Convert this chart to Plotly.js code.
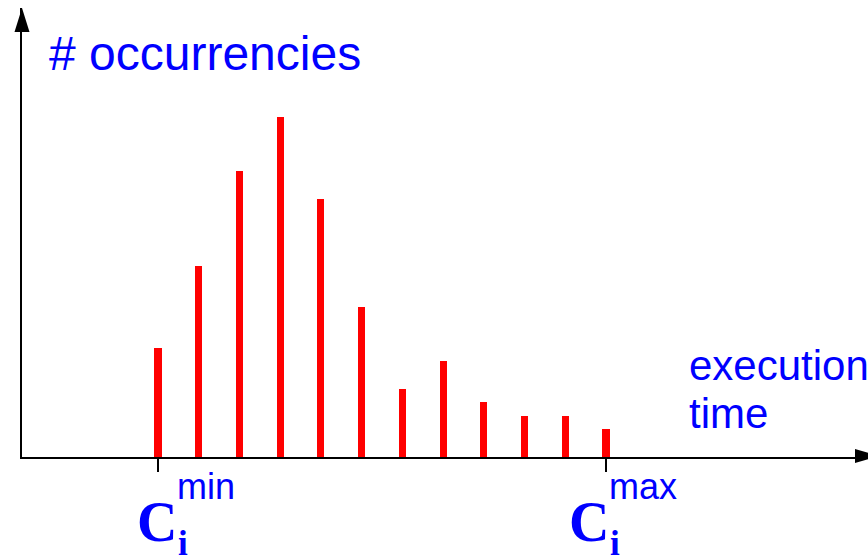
<!DOCTYPE html>
<html>
<head>
<meta charset="utf-8">
<script src="https://cdn.plot.ly/plotly-3.0.1.min.js"></script>
<style>html,body{margin:0;padding:0;background:#fff;}#chart{width:868px;height:557px;}</style>
</head>
<body>
<div id="chart"></div>
<script>
// ---- data ----
const timeBins = [0, 1, 2, 3, 4, 5, 6, 7, 8, 9, 10, 11];
const occurrences = [109, 191, 286, 340, 258, 150, 68, 96, 55, 41, 41, 28];
const tickPositions = [0, 11];
const tickSuperscripts = ['min', 'max'];
const yAxisLabel = '# occurrencies';
const xAxisLabelLines = ['execution', 'time'];

// ---- layout helpers (pixel -> paper) ----
const W = 868, H = 557;
const M = {l: 22, r: 0, t: 8, b: 100};
const PW = W - M.l - M.r, PH = H - M.t - M.b;
const px = x => (x - M.l) / PW;
const py = y => (H - M.b - y) / PH;

const blue = '#0000FF';
const sans = 'Liberation Sans, Arial, sans-serif';
const serif = 'Liberation Serif, Times New Roman, serif';

const trace = {
  type: 'bar',
  x: timeBins,
  y: occurrences,
  width: 0.175,
  marker: {color: '#FF0000', line: {width: 0}},
  hoverinfo: 'skip'
};

const annotations = [
  {xref: 'paper', yref: 'paper', x: px(47), y: py(53), xanchor: 'left', yanchor: 'middle',
   text: yAxisLabel, showarrow: false, font: {family: sans, size: 48, color: blue}},
  {xref: 'paper', yref: 'paper', x: px(687), y: py(365), xanchor: 'left', yanchor: 'middle',
   text: xAxisLabelLines[0], showarrow: false, font: {family: sans, size: 42, color: blue}},
  {xref: 'paper', yref: 'paper', x: px(687), y: py(413), xanchor: 'left', yanchor: 'middle',
   text: xAxisLabelLines[1], showarrow: false, font: {family: sans, size: 42, color: blue}}
];

// label centre (pixel) of the "C" glyph for each tick label
const labelCentres = [156.5, 588.5];
tickPositions.forEach((tp, i) => {
  const cx = labelCentres[i];
  annotations.push({xref: 'paper', yref: 'paper', x: px(cx), y: py(522), xanchor: 'center', yanchor: 'middle',
    text: '<b>C</b>', showarrow: false, font: {family: serif, size: 56, color: blue}});
  annotations.push({xref: 'paper', yref: 'paper', x: px(cx + 26), y: py(543), xanchor: 'center', yanchor: 'middle',
    text: '<b>i</b>', showarrow: false, font: {family: serif, size: 35, color: blue}});
  annotations.push({xref: 'paper', yref: 'paper', x: px(cx + 18), y: py(487), xanchor: 'left', yanchor: 'middle',
    text: tickSuperscripts[i], showarrow: false, font: {family: sans, size: 36, color: blue}});
});

const shapes = [
  {type: 'path', xref: 'paper', yref: 'paper', fillcolor: '#000', line: {width: 0},
   path: `M ${px(22)} ${py(8)} L ${px(14.5)} ${py(32)} L ${px(29.5)} ${py(32)} Z`},
  {type: 'path', xref: 'paper', yref: 'paper', fillcolor: '#000', line: {width: 0},
   path: `M ${px(880)} ${py(456)} L ${px(855)} ${py(449)} L ${px(855)} ${py(463)} Z`}
];

const layout = {
  width: W, height: H,
  margin: M,
  paper_bgcolor: '#fff', plot_bgcolor: '#fff',
  showlegend: false,
  bargap: 0,
  xaxis: {
    range: [-3.339, 17.433],
    showline: true, linecolor: '#000', linewidth: 2,
    showgrid: false, zeroline: false,
    ticks: 'outside', tickvals: tickPositions, ticklen: 13, tickwidth: 2, tickcolor: '#000',
    showticklabels: false, fixedrange: true
  },
  yaxis: {
    range: [0, PH],
    showline: true, linecolor: '#000', linewidth: 2,
    showgrid: false, zeroline: false, ticks: '', showticklabels: false, fixedrange: true
  },
  annotations: annotations,
  shapes: shapes
};

Plotly.newPlot('chart', [trace], layout, {staticPlot: true, displayModeBar: false});
</script>
</body>
</html>
